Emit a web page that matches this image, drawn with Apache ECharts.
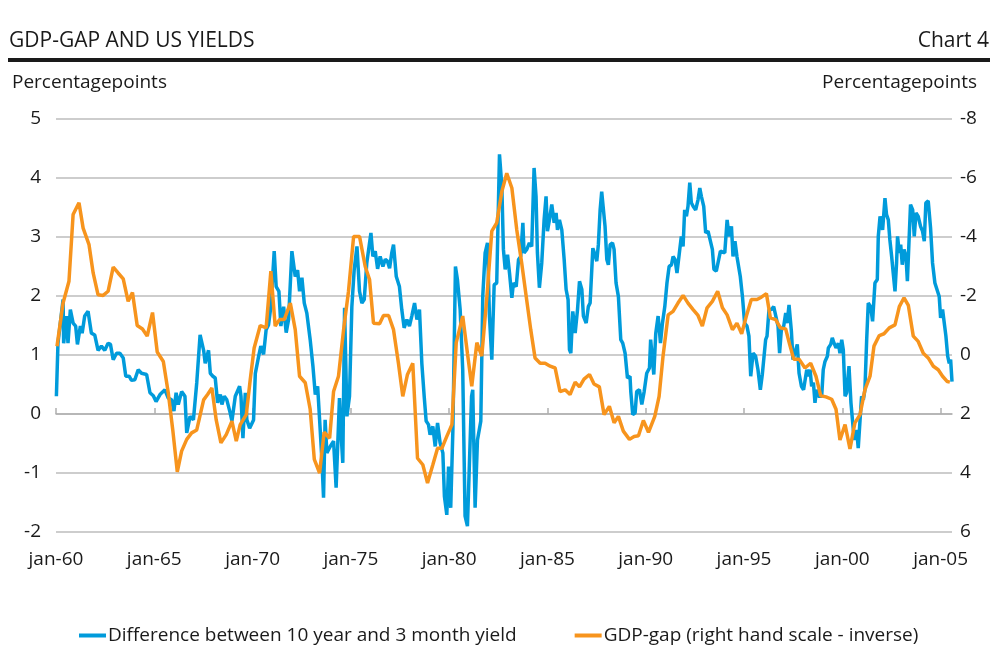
<!DOCTYPE html>
<html>
<head>
<meta charset="utf-8">
<title>GDP-gap and US yields</title>
<script src="https://cdn.jsdelivr.net/npm/echarts@6/dist/echarts.min.js"></script>
<style>
  html, body { margin: 0; padding: 0; background: #fff; }
  #chart { width: 994px; height: 666px; }
</style>
</head>
<body>
<div id="chart"></div>
<script>
// Difference between 10 year and 3 month yield, [decimal year, percentage points]
var spread = [
  [1960.02,0.30],[1960.10,1.20],[1960.36,1.94],[1960.39,1.20],[1960.53,1.66],[1960.61,1.20],[1960.73,1.77],[1960.87,1.54],
  [1961.00,1.49],[1961.09,1.18],[1961.24,1.49],[1961.33,1.37],[1961.46,1.66],[1961.63,1.74],[1961.80,1.37],[1961.97,1.34],
  [1962.14,1.08],[1962.31,1.15],[1962.48,1.08],[1962.65,1.20],[1962.77,1.18],[1962.91,0.92],[1963.08,1.03],[1963.25,1.03],
  [1963.42,0.95],[1963.55,0.64],[1963.72,0.64],[1963.84,0.57],[1964.01,0.58],[1964.18,0.75],[1964.35,0.69],[1964.61,0.67],
  [1964.78,0.36],[1964.95,0.31],[1965.09,0.21],[1965.29,0.33],[1965.54,0.41],[1965.71,0.27],[1965.88,0.24],[1966.00,0.05],
  [1966.11,0.36],[1966.22,0.16],[1966.39,0.38],[1966.56,0.30],[1966.65,-0.32],[1966.82,-0.04],[1966.99,-0.10],[1967.16,0.53],
  [1967.33,1.34],[1967.51,1.08],[1967.59,0.86],[1967.76,1.08],[1967.85,0.69],[1967.98,0.64],[1968.10,0.61],[1968.22,0.19],
  [1968.36,0.33],[1968.44,0.16],[1968.56,0.30],[1968.69,0.24],[1968.86,0.02],[1968.95,-0.12],[1969.12,0.30],[1969.34,0.47],
  [1969.41,0.30],[1969.51,-0.41],[1969.63,0.36],[1969.71,-0.10],[1969.85,-0.24],[1970.05,-0.10],[1970.14,0.69],[1970.31,0.98],
  [1970.42,1.15],[1970.56,1.01],[1970.69,1.43],[1970.81,1.51],[1970.93,1.82],[1971.10,2.76],[1971.20,2.16],[1971.34,2.08],
  [1971.44,1.49],[1971.58,1.82],[1971.71,1.38],[1971.83,1.60],[1972.00,2.76],[1972.17,2.33],[1972.29,2.44],[1972.39,2.08],
  [1972.51,2.31],[1972.63,1.88],[1972.76,1.71],[1972.93,1.26],[1973.07,0.81],[1973.19,0.33],[1973.31,0.47],[1973.44,-0.27],
  [1973.53,-0.80],[1973.61,-1.42],[1973.69,-0.10],[1973.78,-0.66],[1973.95,-0.55],[1974.12,-0.46],[1974.25,-1.25],[1974.42,0.27],
  [1974.49,-0.27],[1974.59,-0.83],[1974.68,1.80],[1974.80,-0.04],[1974.93,0.30],[1975.05,1.82],[1975.17,2.45],[1975.31,2.84],
  [1975.44,2.08],[1975.56,1.88],[1975.68,1.94],[1975.81,2.56],[1975.90,2.53],[1976.02,3.07],[1976.12,2.67],[1976.24,2.76],
  [1976.36,2.46],[1976.49,2.67],[1976.63,2.50],[1976.75,2.62],[1976.86,2.59],[1976.97,2.47],[1977.08,2.73],[1977.17,2.87],
  [1977.31,2.33],[1977.47,2.16],[1977.59,1.77],[1977.71,1.46],[1977.85,1.60],[1977.98,1.49],[1978.10,1.66],[1978.24,1.88],
  [1978.36,1.60],[1978.49,1.77],[1978.61,0.86],[1978.73,0.30],[1978.83,-0.12],[1978.95,-0.18],[1979.03,-0.35],[1979.17,-0.21],
  [1979.29,-0.55],[1979.41,-0.15],[1979.54,-0.49],[1979.68,-0.66],[1979.76,-1.40],[1979.88,-1.71],[1979.97,-0.89],[1980.08,-1.59],
  [1980.19,-0.27],[1980.32,2.50],[1980.42,2.28],[1980.56,1.77],[1980.69,0.75],[1980.81,-1.73],[1980.93,-1.90],[1981.03,-1.90],
  [1981.14,0.30],[1981.20,0.41],[1981.32,-1.59],[1981.44,-0.44],[1981.61,-0.12],[1981.71,2.00],[1981.83,2.73],[1981.95,2.90],
  [1982.05,1.66],[1982.17,0.92],[1982.29,2.19],[1982.42,2.22],[1982.56,4.40],[1982.68,3.86],[1982.76,2.79],[1982.85,2.45],
  [1982.97,2.70],[1983.07,2.39],[1983.19,1.97],[1983.27,2.22],[1983.41,2.16],[1983.53,2.62],[1983.64,2.67],[1983.75,3.24],
  [1983.81,2.73],[1983.95,2.79],[1984.08,2.90],[1984.20,2.84],[1984.32,4.17],[1984.42,3.69],[1984.49,2.73],[1984.59,2.14],
  [1984.71,2.56],[1984.83,3.29],[1984.93,3.69],[1985.00,3.10],[1985.10,3.29],[1985.22,3.55],[1985.34,3.24],[1985.44,3.41],
  [1985.51,3.12],[1985.61,3.29],[1985.73,3.12],[1985.85,2.62],[1985.95,2.11],[1986.05,1.94],[1986.12,1.09],[1986.19,1.03],
  [1986.29,1.74],[1986.41,1.37],[1986.53,1.77],[1986.63,2.25],[1986.75,2.11],[1986.83,1.66],[1986.97,1.54],[1987.08,1.82],
  [1987.17,1.88],[1987.31,2.81],[1987.39,2.73],[1987.51,2.59],[1987.59,2.87],[1987.68,3.46],[1987.76,3.77],[1987.85,3.77],
  [1987.93,3.18],[1988.02,2.62],[1988.10,2.53],[1988.19,2.87],[1988.31,2.90],[1988.39,2.79],[1988.49,2.22],[1988.61,1.99],
  [1988.73,1.26],[1988.83,1.20],[1988.95,1.03],[1989.07,0.61],[1989.20,0.64],[1989.24,0.38],[1989.34,-0.01],[1989.46,0.02],
  [1989.54,0.38],[1989.68,0.41],[1989.80,0.16],[1989.92,0.38],[1990.05,0.69],[1990.19,0.78],[1990.25,1.26],[1990.41,0.67],
  [1990.51,1.37],[1990.63,1.66],[1990.75,1.20],[1990.85,1.54],[1990.97,1.82],[1991.08,2.22],[1991.19,2.50],[1991.31,2.53],
  [1991.39,2.67],[1991.49,2.62],[1991.59,2.39],[1991.69,2.36],[1991.81,3.01],[1991.90,2.84],[1991.98,3.46],[1992.07,3.35],
  [1992.15,3.52],[1992.24,3.92],[1992.32,3.58],[1992.41,3.52],[1992.54,3.46],[1992.66,3.63],[1992.75,3.83],[1992.83,3.69],
  [1992.95,3.52],[1993.05,3.07],[1993.17,3.10],[1993.25,3.10],[1993.39,2.79],[1993.47,2.45],[1993.59,2.42],[1993.68,2.39],
  [1993.80,2.76],[1993.90,2.79],[1994.02,2.73],[1994.14,3.29],[1994.24,3.01],[1994.36,3.18],[1994.44,2.67],[1994.54,2.93],
  [1994.64,2.67],[1994.75,2.45],[1994.81,2.33],[1994.92,1.99],[1995.03,1.54],[1995.15,1.49],[1995.25,1.32],[1995.34,0.64],
  [1995.46,1.03],[1995.59,0.98],[1995.71,0.75],[1995.83,0.41],[1995.93,0.67],[1996.02,0.64],[1996.10,1.26],[1996.17,1.32],
  [1996.27,1.77],[1996.39,1.77],[1996.51,1.82],[1996.61,1.80],[1996.73,1.49],[1996.81,1.03],[1996.90,1.43],[1997.02,1.49],
  [1997.12,1.71],[1997.19,1.54],[1997.29,1.85],[1997.41,1.40],[1997.49,0.92],[1997.63,1.09],[1997.71,1.18],[1997.80,0.69],
  [1997.92,0.47],[1998.03,0.41],[1998.10,0.44],[1998.19,0.75],[1998.27,0.64],[1998.36,0.75],[1998.44,0.47],[1998.53,0.53],
  [1998.61,0.19],[1998.69,0.41],[1998.78,0.30],[1998.86,0.27],[1998.95,0.30],[1999.03,0.75],[1999.12,0.89],[1999.24,0.98],
  [1999.29,1.12],[1999.41,1.18],[1999.49,1.29],[1999.58,1.20],[1999.68,1.12],[1999.80,1.20],[1999.88,1.03],[1999.97,1.26],
  [2000.05,1.09],[2000.14,0.30],[2000.22,0.36],[2000.34,0.81],[2000.44,0.19],[2000.56,-0.27],[2000.64,-0.44],[2000.73,-0.27],
  [2000.81,-0.58],[2000.90,-0.61],[2000.98,0.30],[2001.07,0.24],[2001.15,0.41],[2001.24,1.26],[2001.32,1.88],[2001.44,1.82],
  [2001.54,1.57],[2001.61,1.54],[2001.66,2.22],[2001.78,2.28],[2001.83,3.01],[2001.92,3.35],[2002.00,3.32],[2002.05,3.12],
  [2002.17,3.66],[2002.25,3.38],[2002.34,3.29],[2002.42,2.95],[2002.51,2.67],[2002.59,2.39],[2002.68,2.08],[2002.76,2.56],
  [2002.81,3.01],[2002.90,2.73],[2002.97,2.87],[2003.05,2.53],[2003.14,2.79],[2003.24,2.67],[2003.31,2.25],[2003.39,2.90],
  [2003.47,3.55],[2003.58,3.46],[2003.66,3.01],[2003.75,3.41],[2003.86,3.35],[2003.98,3.18],[2004.08,3.10],[2004.17,2.93],
  [2004.25,3.58],[2004.37,3.61],[2004.49,3.15],[2004.59,2.56],[2004.71,2.22],[2004.80,2.19],[2004.93,1.99],[2005.00,1.63],
  [2005.10,1.77],[2005.19,1.77],[2005.27,1.32],[2005.36,0.98],[2005.44,0.86],[2005.51,0.92],[2005.58,0.55]
];

// GDP-gap (right hand scale, inverse), [decimal year, percentage points]
var gdpGap = [
  [1960.05,-0.30],[1960.36,-1.76],[1960.66,-2.50],[1960.87,-4.76],[1961.17,-5.16],[1961.38,-4.30],[1961.68,-3.74],[1961.89,-2.78],
  [1962.14,-2.04],[1962.40,-2.02],[1962.65,-2.16],[1962.91,-2.98],[1963.16,-2.78],[1963.42,-2.58],[1963.67,-1.82],[1963.89,-2.12],
  [1964.13,-1.00],[1964.40,-0.88],[1964.64,-0.64],[1964.91,-1.44],[1965.15,-0.10],[1965.46,0.22],[1965.71,1.28],[1965.94,2.54],
  [1966.17,3.96],[1966.39,3.26],[1966.65,2.86],[1966.90,2.64],[1967.16,2.54],[1967.51,1.52],[1967.71,1.34],[1967.93,1.12],
  [1968.15,2.20],[1968.39,2.98],[1968.66,2.70],[1968.95,2.24],[1969.17,2.92],[1969.37,2.36],[1969.68,2.02],[1969.88,0.84],
  [1970.08,-0.24],[1970.39,-1.00],[1970.69,-0.92],[1970.93,-2.84],[1971.15,-0.98],[1971.37,-1.20],[1971.61,-1.20],[1971.92,-1.76],
  [1972.17,-0.86],[1972.39,0.72],[1972.68,0.94],[1972.93,1.84],[1973.14,3.54],[1973.41,4.00],[1973.64,2.62],[1973.92,2.82],
  [1974.12,1.24],[1974.37,0.72],[1974.63,-0.86],[1974.88,-2.16],[1975.14,-4.02],[1975.44,-4.02],[1975.73,-3.00],[1975.95,-2.56],
  [1976.15,-1.08],[1976.46,-1.06],[1976.66,-1.34],[1976.92,-1.34],[1977.17,-0.86],[1977.42,0.28],[1977.64,1.40],[1977.88,0.66],
  [1978.15,0.28],[1978.39,3.50],[1978.66,3.72],[1978.90,4.34],[1979.17,3.72],[1979.41,3.16],[1979.63,3.16],[1979.88,2.76],
  [1980.14,2.36],[1980.36,-0.42],[1980.69,-1.32],[1980.93,-0.06],[1981.15,1.06],[1981.41,-0.42],[1981.66,0.04],[1981.92,-1.98],
  [1982.17,-4.20],[1982.42,-4.48],[1982.68,-5.54],[1982.93,-6.16],[1983.19,-5.66],[1983.44,-4.24],[1983.69,-3.12],[1983.92,-1.98],
  [1984.15,-0.86],[1984.37,0.10],[1984.63,0.28],[1984.88,0.28],[1985.14,0.38],[1985.39,0.44],[1985.64,1.24],[1985.90,1.18],
  [1986.15,1.34],[1986.41,0.92],[1986.63,1.08],[1986.86,0.82],[1987.14,0.66],[1987.37,0.98],[1987.64,1.08],[1987.88,2.02],
  [1988.15,1.74],[1988.39,2.30],[1988.61,2.08],[1988.86,2.58],[1989.17,2.86],[1989.41,2.76],[1989.63,2.74],[1989.88,2.22],
  [1990.14,2.62],[1990.46,2.08],[1990.68,1.40],[1990.88,0.04],[1991.14,-1.36],[1991.39,-1.48],[1991.64,-1.76],[1991.90,-2.02],
  [1992.15,-1.76],[1992.41,-1.54],[1992.66,-1.34],[1992.88,-0.98],[1993.12,-1.60],[1993.39,-1.82],[1993.66,-2.16],[1993.90,-1.60],
  [1994.14,-1.36],[1994.41,-0.86],[1994.64,-1.08],[1994.88,-0.72],[1995.12,-1.32],[1995.37,-1.88],[1995.66,-1.88],[1995.88,-1.96],
  [1996.14,-2.08],[1996.34,-1.26],[1996.61,-1.20],[1996.85,-0.92],[1997.12,-0.88],[1997.32,-0.36],[1997.53,0.14],[1997.80,0.14],
  [1998.10,0.44],[1998.39,0.28],[1998.66,0.72],[1998.90,1.38],[1999.17,1.42],[1999.46,1.50],[1999.68,1.84],[1999.88,2.88],
  [2000.14,2.36],[2000.39,3.18],[2000.64,2.30],[2000.90,2.02],[2001.15,1.18],[2001.41,0.72],[2001.61,-0.30],[2001.88,-0.66],
  [2002.12,-0.72],[2002.39,-0.92],[2002.68,-1.02],[2002.90,-1.64],[2003.14,-1.94],[2003.36,-1.68],[2003.61,-0.64],[2003.86,-0.46],
  [2004.12,-0.06],[2004.37,0.10],[2004.63,0.38],[2004.88,0.50],[2005.10,0.72],[2005.34,0.90],[2005.47,0.92]
];

var tickYears = [1960, 1965, 1970, 1975, 1980, 1985, 1990, 1995, 2000, 2005];
var seriesNames = ['Difference between 10 year and 3 month yield', 'GDP-gap (right hand scale - inverse)'];

var fontFamily = '"Open Sans", "Noto Sans", sans-serif';
var textColor = '#1a1a1a';
var labelSize = 19;

var chart = echarts.init(document.getElementById('chart'), null, { renderer: 'canvas' });

var option = {
    backgroundColor: '#ffffff',
    animation: false,
    textStyle: { fontFamily: fontFamily, color: textColor },
    title: [
        { text: 'GDP-GAP AND US YIELDS', left: 4, top: 26, textStyle: { fontSize: 21, fontWeight: 'normal', color: textColor, fontFamily: fontFamily } },
        { text: 'Chart 4', right: 0, top: 26, textStyle: { fontSize: 21, fontWeight: 'normal', color: textColor, fontFamily: fontFamily } },
        { text: 'Percentagepoints', left: 7, top: 68, textStyle: { fontSize: labelSize, fontWeight: 'normal', color: textColor, fontFamily: fontFamily } },
        { text: 'Percentagepoints', right: 12, top: 68, textStyle: { fontSize: labelSize, fontWeight: 'normal', color: textColor, fontFamily: fontFamily } }
    ],
    graphic: [
        { type: 'rect', left: 8, top: 58, shape: { width: 982, height: 4 }, style: { fill: '#1a1a1a' } }
    ],
    legend: {
        left: 74,
        top: 621,
        icon: 'rect',
        itemWidth: 27,
        itemHeight: 4,
        itemGap: 58,
        textStyle: { fontSize: labelSize, color: textColor, fontFamily: fontFamily, padding: [0, 0, 0, -3] },
        data: seriesNames
    },
    grid: { left: 56, right: 42, top: 119, bottom: 134, containLabel: false },
    xAxis: {
        type: 'value',
        min: 1960,
        max: 2005.58,
        interval: 5,
        axisLine: { show: true, lineStyle: { color: '#b0b0b0', width: 1.5 } },
        axisTick: { show: true, inside: true, length: 6, customValues: tickYears, lineStyle: { color: '#b0b0b0', width: 1.5 } },
        axisLabel: {
            customValues: tickYears,
            margin: 18,
            fontSize: labelSize,
            color: textColor,
            formatter: function (v) {
                var yy = Math.round(v) % 100;
                return 'jan-' + (yy < 10 ? '0' + yy : yy);
            }
        },
        splitLine: { show: false }
    },
    yAxis: [
        {
            type: 'value',
            min: -2,
            max: 5,
            interval: 1,
            position: 'left',
            axisLine: { show: false },
            axisTick: { show: false },
            axisLabel: { margin: 15, fontSize: labelSize, color: textColor },
            splitLine: { show: true, lineStyle: { color: '#bdbdbd', width: 1.5 } }
        },
        {
            type: 'value',
            min: -8,
            max: 6,
            interval: 2,
            inverse: true,
            position: 'right',
            axisLine: { show: false },
            axisTick: { show: false },
            axisLabel: { margin: 8, fontSize: labelSize, color: textColor },
            splitLine: { show: false }
        }
    ],
    series: [
        {
            name: seriesNames[0],
            type: 'line',
            yAxisIndex: 0,
            data: spread,
            showSymbol: false,
            lineStyle: { color: '#009bdb', width: 3.5 },
            itemStyle: { color: '#009bdb' },
            z: 2
        },
        {
            name: seriesNames[1],
            type: 'line',
            yAxisIndex: 1,
            data: gdpGap,
            showSymbol: false,
            lineStyle: { color: '#f7941d', width: 3.5 },
            itemStyle: { color: '#f7941d' },
            z: 3
        }
    ]
};

chart.setOption(option);
</script>
</body>
</html>
